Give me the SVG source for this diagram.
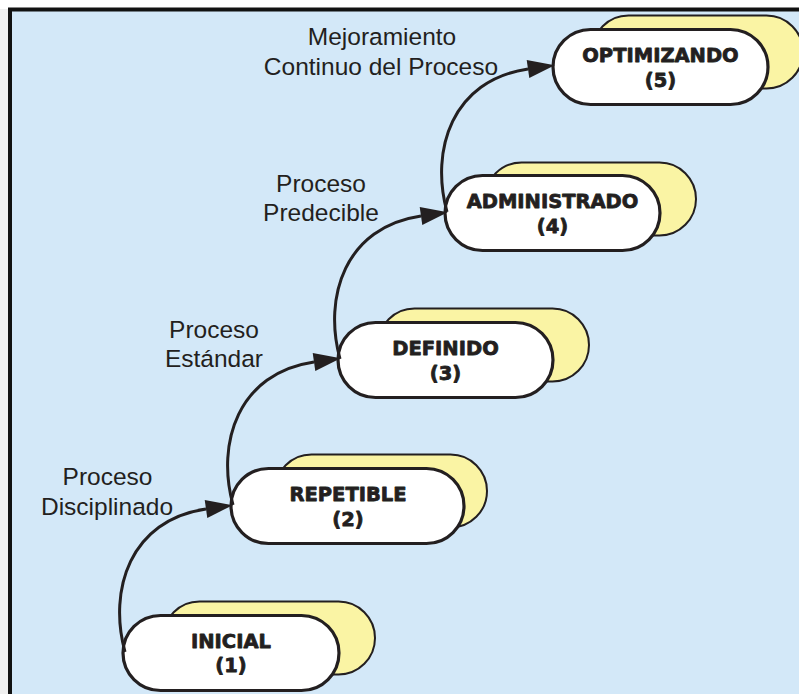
<svg xmlns="http://www.w3.org/2000/svg" width="799" height="694" viewBox="0 0 799 694">
  <style>
    .frame { stroke: #111111; stroke-width: 4; fill: none; }
    .back { fill: #faf4a4; stroke: #231f20; stroke-width: 2; }
    .pill { fill: #ffffff; stroke: #231f20; stroke-width: 3.2; }
    .name { font-family: "DejaVu Sans", "Liberation Sans", sans-serif; font-weight: bold; font-size: 19.5px; fill: #231f20; stroke: #231f20; stroke-width: 0.8; stroke-linejoin: round; text-anchor: middle; }
    .label { font-family: "Liberation Sans", Arial, sans-serif; font-size: 24.5px; fill: #231f20; text-anchor: middle; }
    .link { fill: none; stroke: #231f20; stroke-width: 3; marker-end: url(#head); }
  </style>
  <defs>
    <marker id="head" markerUnits="userSpaceOnUse" markerWidth="30" markerHeight="20" refX="0" refY="0" viewBox="0 -10 30 20" orient="auto" overflow="visible">
      <path d="M0,-9 L27,0 L0,9 Z" fill="#231f20"/>
    </marker>
  </defs>

  <!-- page and frame -->
  <rect x="0" y="0" width="799" height="694" fill="#ffffff"/>
  <rect x="0" y="9" width="8" height="685" fill="#efefef"/>
  <rect x="10" y="9.5" width="789" height="684.5" fill="#d3e8f8"/>
  <line class="frame" x1="8" y1="9.5" x2="799" y2="9.5"/>
  <line class="frame" x1="10" y1="8" x2="10" y2="694"/>

  <!-- maturity levels -->
  <g id="inicial">
    <rect class="back" x="163" y="601.5" width="212" height="73" rx="36.5"/>
    <rect class="pill" x="123" y="615.5" width="216" height="75" rx="37.5"/>
    <text class="name" x="231" y="648">INICIAL</text>
    <text class="name" x="231" y="672">(1)</text>
  </g>
  <g id="repetible">
    <rect class="back" x="275" y="454.5" width="212" height="73" rx="36.5"/>
    <rect class="pill" x="231" y="468.5" width="233" height="75" rx="37.5"/>
    <text class="name" x="348" y="501">REPETIBLE</text>
    <text class="name" x="348" y="526">(2)</text>
  </g>
  <g id="definido">
    <rect class="back" x="378" y="308.5" width="211" height="73" rx="36.5"/>
    <rect class="pill" x="338" y="322.5" width="215" height="75" rx="37.5"/>
    <text class="name" x="445.5" y="355">DEFINIDO</text>
    <text class="name" x="445.5" y="380">(3)</text>
  </g>
  <g id="administrado">
    <rect class="back" x="485" y="162.5" width="211" height="73" rx="36.5"/>
    <rect class="pill" x="445" y="175.5" width="215" height="75" rx="37.5"/>
    <text class="name" x="552.5" y="208">ADMINISTRADO</text>
    <text class="name" x="552.5" y="233">(4)</text>
  </g>
  <g id="optimizando">
    <rect class="back" x="592" y="15.5" width="211" height="73" rx="36.5"/>
    <rect class="pill" x="553" y="29.5" width="215" height="75" rx="37.5"/>
    <text class="name" x="660.5" y="62">OPTIMIZANDO</text>
    <text class="name" x="660.5" y="87">(5)</text>
  </g>

  <!-- transitions between levels -->
  <g id="connectors">
    <path class="link" d="M125,652 C108,590 130,520 206,509"/>
    <path class="link" d="M233,505 C216,443 238,373 314,362"/>
    <path class="link" d="M340,359 C323,297 345,227 421,216"/>
    <path class="link" d="M447,212 C430,150 452,80 528,69"/>
  </g>

  <!-- transition labels -->
  <g id="labels">
    <text class="label" x="107.5" y="485">Proceso</text>
    <text class="label" x="107" y="515">Disciplinado</text>
    <text class="label" x="214" y="338">Proceso</text>
    <text class="label" x="214" y="367">Estándar</text>
    <text class="label" x="321" y="192">Proceso</text>
    <text class="label" x="321" y="221">Predecible</text>
    <text class="label" x="382" y="45">Mejoramiento</text>
    <text class="label" x="381" y="75">Continuo del Proceso</text>
  </g>
</svg>
